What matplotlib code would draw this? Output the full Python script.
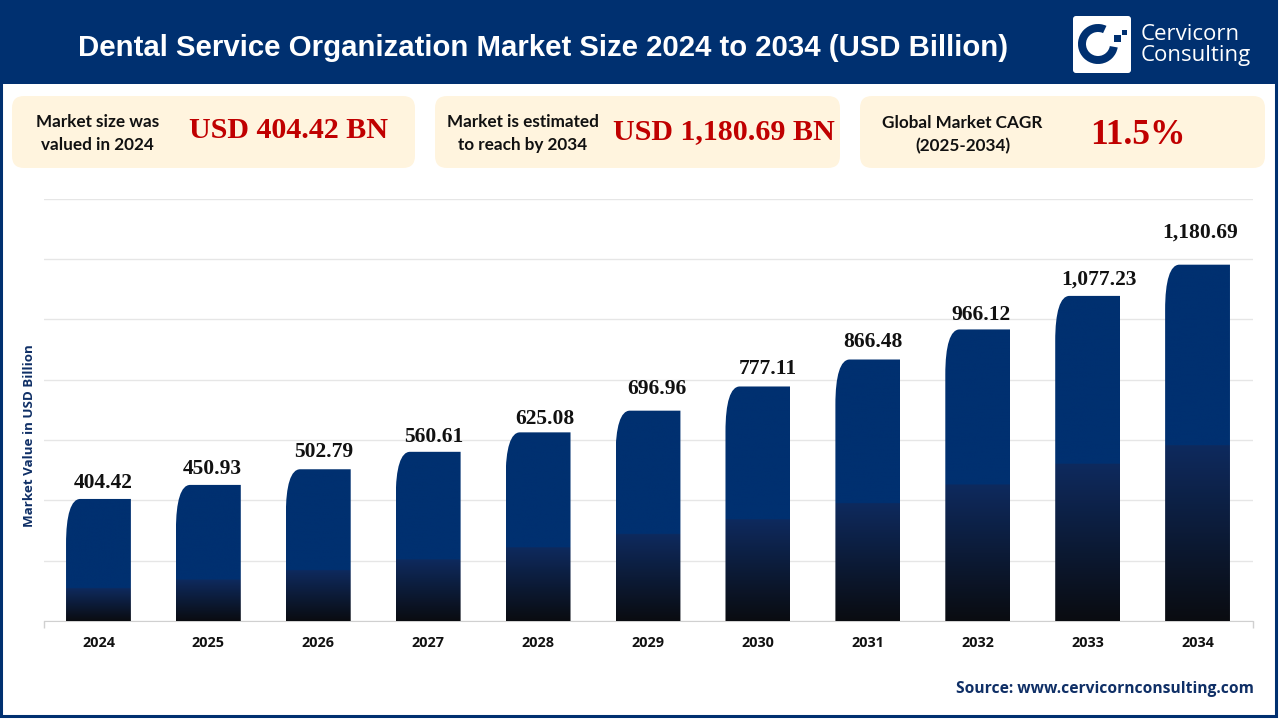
import matplotlib
matplotlib.use("Agg")
import matplotlib.pyplot as plt
import numpy as np
from matplotlib.patches import FancyBboxPatch, PathPatch, Rectangle, Wedge
from matplotlib.path import Path

years = [2024, 2025, 2026, 2027, 2028, 2029, 2030, 2031, 2032, 2033, 2034]
values = [404.42, 450.93, 502.79, 560.61, 625.08, 696.96, 777.11, 866.48, 966.12, 1077.23, 1180.69]
value_labels = ["404.42", "450.93", "502.79", "560.61", "625.08", "696.96",
                "777.11", "866.48", "966.12", "1,077.23", "1,180.69"]
# hand placed labels in the original, offsets from bar top centre (px)
label_dx = [5, 4, 5, 6, 7, 9, 10, 5, 3, 11, 3]
label_dy = [16, 16, 17, 15, 13, 22, 17, 18, 14, 16, 32]

NAVY = "#003070"
TEXT_NAVY = "#0f2f66"
RED = "#c00000"
CARD = "#fff4de"
SANS = "Open Sans"
SERIF = "Liberation Serif"
W, H = 1280, 720
PX = 72 / 100  # one pixel in points


def draw_bar(ax, bar):
    """Fill a bar with the navy/black gradient and round its top left corner."""
    x, w, h = bar.get_x(), bar.get_width(), bar.get_height()
    rx, ry = w * 0.22, 150
    verts = [(x, 0), (x, h - ry), (x, h - ry * 0.35), (x + rx * 0.35, h), (x + rx, h),
             (x + w, h), (x + w, 0), (x, 0)]
    codes = [Path.MOVETO, Path.LINETO, Path.CURVE4, Path.CURVE4, Path.CURVE4,
             Path.LINETO, Path.LINETO, Path.CLOSEPOLY]
    clip = PathPatch(Path(verts, codes), fc="none", ec="none", transform=ax.transData)
    ax.add_patch(clip)

    stop = 0.611 * h - 139  # dark part grows with the bar
    ys = np.linspace(h, 0, 400)
    t = np.clip(ys / stop, 0, 1)[:, None, None]
    bottom = np.array([[[0x0a, 0x0c, 0x11]]]) / 255
    top = np.array([[[0x0e, 0x2a, 0x5e]]]) / 255
    grad = bottom + (top - bottom) * t
    grad[ys > stop] = matplotlib.colors.to_rgb(NAVY)
    img = ax.imshow(grad, extent=(x, x + w, 0, h), aspect="auto", zorder=3,
                    interpolation="bilinear")
    img.set_clip_path(clip)


def main():
    fig = plt.figure(figsize=(W / 100, H / 100), dpi=100, facecolor="white")

    # --- chart ----------------------------------------------------------- #
    ax = fig.add_axes([43.5 / W, 1 - 621 / H, (1252 - 43) / W, (621 - 198.5) / H])
    pos = np.arange(len(years))
    bars = ax.bar(pos, values, width=0.59, color="none", zorder=3)
    for bar in bars:
        draw_bar(ax, bar)
    ax.set_xlim(-0.5, 10.5)
    ax.set_ylim(0, 1400)
    ax.set_yticks(range(0, 1401, 200))
    ax.set_xticks(pos)
    ax.set_xticklabels(years, fontsize=10.4, fontweight="bold", family=SANS, color="#111111")
    ax.set_xticks(pos[:-1] + 0.5, minor=True)
    ax.set_xticks([-0.5, 10.5], minor=True)
    ax.tick_params(axis="x", which="major", length=0, pad=10.5)
    ax.tick_params(axis="x", which="minor", length=5, color="#d0d0d0", width=1)
    ax.tick_params(axis="y", length=0, labelleft=False)
    ax.grid(axis="y", color="#e6e6e6", lw=1, zorder=0)
    ax.set_axisbelow(True)
    for name in ["top", "left", "right"]:
        ax.spines[name].set_visible(False)
    ax.spines["bottom"].set_color("#d0d0d0")
    ax.patch.set_alpha(0)

    for p, v, lab, dx, dy in zip(pos, values, value_labels, label_dx, label_dy):
        ax.annotate(lab, (p, v), xytext=(dx * PX, dy * PX), textcoords="offset points",
                    ha="center", va="center", family=SERIF, fontweight="bold",
                    fontsize=15.5, color="#111111", zorder=5)

    # --- overlay in pixel coordinates ------------------------------------ #
    ov = fig.add_axes([0, 0, 1, 1], zorder=10)
    ov.set_xlim(0, W)
    ov.set_ylim(H, 0)
    ov.axis("off")

    ov.add_patch(Rectangle((1, 1), 1275, 715, fc="none", ec=NAVY, lw=2.2))
    ov.add_patch(Rectangle((1, 1), 1275, 83, fc=NAVY, ec="none"))
    ov.text(543.5, 48, "Dental Service Organization Market Size 2024 to 2034 (USD Billion)",
            ha="center", va="center", color="white", fontsize=21.2, fontweight="bold",
            family="Liberation Sans")

    # logo
    ov.add_patch(FancyBboxPatch((1075, 18), 54, 53, boxstyle="round,pad=2,rounding_size=3",
                                fc="white", ec="none"))
    ov.add_patch(Wedge((1098, 44), 20, 10, 295, width=8, fc=NAVY, ec="none"))
    ov.add_patch(Rectangle((1114, 35), 7, 7, fc=NAVY, ec="none"))
    ov.add_patch(Rectangle((1122, 30), 5, 5, fc=NAVY, ec="none"))
    ov.text(1141, 34, "Cervicorn", color="white", fontsize=16, family=SANS, ha="left", va="center")
    ov.text(1141, 56, "Consulting", color="white", fontsize=16, family=SANS, ha="left", va="center")

    # summary cards
    for x0, x1 in [(12, 415), (435, 840), (860, 1265)]:
        ov.add_patch(FancyBboxPatch((x0 + 12, 108), x1 - x0 - 24, 48,
                                    boxstyle="round,pad=12,rounding_size=12", fc=CARD, ec="none"))
    for cx, y1, line1, y2, line2 in [(97.5, 122, "Market size was", 145, "valued in 2024"),
                                     (523, 122, "Market is estimated", 145, "to reach by 2034"),
                                     (962.5, 123, "Global Market CAGR", 146, "(2025-2034)")]:
        ov.text(cx, y1, line1, ha="center", va="center", family="Lato", fontweight="bold", fontsize=12.3, color="#111111")
        ov.text(cx, y2, line2, ha="center", va="center", family="Lato", fontweight="bold", fontsize=12.3, color="#111111")
    for cx, cy, txt, size in [(288.5, 131, "USD 404.42 BN", 21.6),
                              (724, 132, "USD 1,180.69 BN", 21.6),
                              (1137.5, 135, "11.5%", 25.5)]:
        ov.text(cx, cy, txt, ha="center", va="center", family=SERIF, fontweight="bold",
                fontsize=size, color=RED)

    ov.text(29.5, 436, "Market Value in USD Billion", rotation=90, ha="center", va="center",
            family=SANS, fontweight="bold", fontsize=9.6, color=TEXT_NAVY)
    ov.text(1254, 689, "Source: www.cervicornconsulting.com", ha="right", va="center",
            family=SANS, fontweight="bold", fontsize=11.25, color=TEXT_NAVY)

    fig.savefig("out.png", dpi=100)


if __name__ == "__main__":
    main()
